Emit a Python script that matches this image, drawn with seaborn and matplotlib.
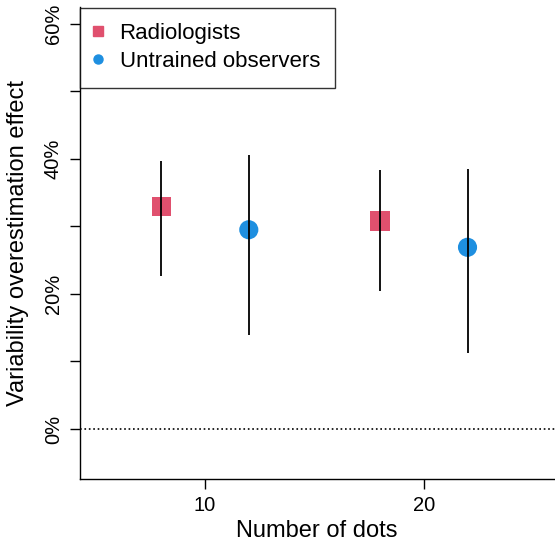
import pandas as pd
import matplotlib
matplotlib.use("Agg")
import matplotlib.pyplot as plt
import seaborn as sns

# values (percent)
groups = ["Radiologists", "Untrained observers", "Radiologists", "Untrained observers"]
n_dots = [8, 12, 18, 22]
effect = [32.9, 29.5, 30.8, 26.9]
ci_low = [22.7, 13.9, 20.4, 11.2]
ci_high = [39.7, 40.6, 38.3, 38.5]

colors = {"Radiologists": "#E0506E", "Untrained observers": "#1E8FE0"}
markers = {"Radiologists": "s", "Untrained observers": "o"}

df = pd.DataFrame({"group": groups, "x": n_dots, "y": effect,
                   "lo": ci_low, "hi": ci_high})

sns.set_style("ticks")
plt.rcParams["font.family"] = ["Liberation Sans", "DejaVu Sans"]
plt.rcParams["text.color"] = "black"
plt.rcParams["axes.labelcolor"] = "black"
plt.rcParams["xtick.color"] = "black"
plt.rcParams["ytick.color"] = "black"

fig = plt.figure(figsize=(5.55, 5.43), dpi=100)
ax = fig.add_axes([79.5 / 555, 64 / 543, 475.5 / 555, 471.5 / 543])

sns.scatterplot(data=df, x="x", y="y", hue="group", style="group",
                palette=colors, markers=markers, s=190, linewidth=0,
                ax=ax, zorder=2, legend=False)
ax.vlines(df["x"], df["lo"], df["hi"], color="black", lw=1.3, zorder=3)
ax.axhline(0, color="black", ls=":", lw=1.2, zorder=1)

ax.set_xlim(4.26, 26.0)
ax.set_ylim(-7.4, 62.4)
ax.set_xticks([10, 20])
ax.set_yticks([0, 10, 20, 30, 40, 50, 60])
ax.set_yticklabels(["0%", "", "20%", "", "40%", "", "60%"], rotation=90, va="center")
ax.tick_params(labelsize=14.5, length=7, width=1, color="black", pad=5)
ax.set_xlabel("Number of dots", fontsize=17, labelpad=4)
ax.set_ylabel("Variability overestimation effect", fontsize=17, labelpad=11)
for side in ["top", "right"]:
    ax.spines[side].set_visible(False)
for side in ["left", "bottom"]:
    ax.spines[side].set_color("black")
    ax.spines[side].set_linewidth(1)

handles = [plt.Line2D([], [], marker=markers[g], color=colors[g], ls="",
                      markersize=6.5) for g in colors]
leg = ax.legend(handles, list(colors), loc="upper left", bbox_to_anchor=(0, 1),
                borderaxespad=0, fontsize=16, frameon=True, fancybox=False,
                edgecolor="black", handlelength=0.3, handletextpad=0.8,
                borderpad=0.7, labelspacing=0.32)
leg.get_frame().set_linewidth(1)

fig.savefig("out.png", dpi=100)
